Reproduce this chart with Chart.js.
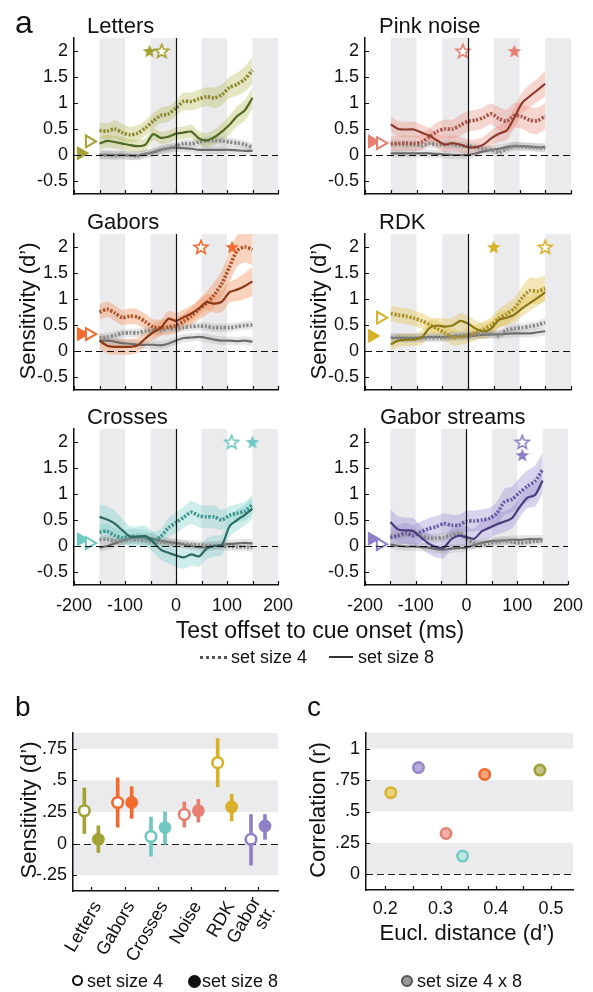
<!DOCTYPE html>
<html><head><meta charset="utf-8">
<script src="https://cdn.jsdelivr.net/npm/chart.js@4.4.1/dist/chart.umd.min.js"></script>
<style>
html,body{margin:0;padding:0;background:#fff;overflow:hidden;}
#fig{position:relative;width:593px;height:992px;overflow:hidden;font-family:"Liberation Sans",Arial,sans-serif;color:#111;}
#fig canvas{position:absolute;left:0;top:0;}
.t{position:absolute;white-space:nowrap;line-height:1;}
</style></head><body><div id="fig"></div>
<script>
// ---------------- DATA ----------------
const offsets = [-150,-135,-120,-105,-90,-75,-60,-45,-30,-15,0,15,30,45,60,75,90,105,120,135,150];
const shadedWindows = [[-150,-100],[-50,0],[50,100],[150,200]];
const xTicksA = [-200,-150,-100,-50,0,50,100,150,200];
const yTicksA = [-0.5,0,0.5,1,1.5,2];
const controlCI = [.08,.08,.08,.08,.08,.08,.08,.08,.08,.08,.08,.08,.08,.08,.08,.08,.08,.08,.08,.08,.08];

const lettersSet4   = [.47,.46,.5,.43,.39,.42,.52,.65,.76,.79,.9,1.03,1.03,1.08,1.12,1.1,1.16,1.3,1.36,1.46,1.63];
const lettersSet4CI = [.15,.15,.17,.17,.15,.15,.15,.15,.15,.15,.15,.17,.17,.18,.18,.2,.2,.2,.22,.24,.26];
const lettersSet8   = [.22,.27,.25,.22,.19,.17,.2,.4,.33,.35,.41,.43,.45,.32,.28,.34,.45,.58,.75,.86,1.1];
const lettersSet8CI = [.12,.12,.12,.12,.12,.12,.12,.12,.12,.12,.12,.12,.13,.13,.14,.15,.16,.18,.19,.2,.2];
const lettersCtrl4  = [0,0,-.01,0,-.01,-.02,.02,.05,.1,.13,.17,.22,.22,.25,.27,.28,.27,.25,.23,.2,.15];
const lettersCtrl8  = [0,0,0,0,-.01,-.01,.02,.05,.1,.13,.14,.13,.12,.1,.1,.1,.1,.1,.09,.08,.08];

const noiseSet4   = [.22,.22,.23,.22,.25,.35,.45,.5,.5,.57,.65,.67,.72,.79,.7,.65,.76,.74,.67,.66,.75];
const noiseSet4CI = [.15,.15,.15,.15,.15,.16,.18,.18,.18,.2,.2,.2,.2,.2,.22,.22,.24,.24,.25,.25,.25];
const noiseSet8   = [.59,.5,.49,.49,.43,.37,.28,.2,.23,.2,.15,.15,.2,.32,.41,.47,.72,1.0,1.13,1.25,1.37];
const noiseSet8CI = [.15,.15,.15,.15,.15,.15,.15,.15,.15,.15,.15,.15,.15,.15,.16,.18,.2,.2,.22,.22,.25];
const noiseCtrl4  = [.2,.22,.2,.2,.18,.22,.2,.2,.2,.18,.17,.15,.12,.1,.05,.12,.17,.16,.15,.14,.13];
const noiseCtrl8  = [.03,.03,.03,.03,.03,.03,.02,.01,0,0,0,.03,.07,.1,.12,.15,.17,.17,.16,.15,.15];

const gaborsSet4   = [.75,.8,.73,.64,.67,.65,.56,.46,.45,.46,.49,.57,.67,.8,.92,1.08,1.3,1.62,1.93,2.0,1.95];
const gaborsSet4CI = [.15,.15,.15,.15,.15,.15,.15,.15,.15,.15,.15,.15,.17,.2,.22,.25,.25,.3,.3,.3,.3];
const gaborsSet8   = [.2,.1,.08,.08,.08,.11,.24,.36,.44,.62,.58,.65,.72,.82,.94,.91,.95,1.13,1.18,1.25,1.34];
const gaborsSet8CI = [.15,.15,.15,.15,.15,.15,.15,.15,.15,.15,.15,.15,.15,.15,.15,.17,.2,.2,.22,.25,.28];
const gaborsCtrl4  = [.25,.27,.3,.34,.35,.35,.38,.4,.4,.43,.43,.45,.47,.48,.47,.45,.45,.45,.47,.49,.5];
const gaborsCtrl8  = [.2,.2,.18,.15,.14,.12,.12,.12,.11,.14,.2,.25,.26,.27,.25,.22,.2,.2,.19,.2,.18];

const rdkSet4   = [.72,.69,.67,.63,.58,.51,.43,.35,.26,.27,.3,.35,.42,.5,.63,.71,.82,1.02,1.16,1.15,1.2];
const rdkSet4CI = [.15,.15,.15,.15,.15,.15,.15,.15,.15,.15,.15,.15,.15,.15,.18,.2,.2,.22,.25,.25,.25];
const rdkSet8   = [.13,.2,.22,.22,.26,.44,.49,.47,.49,.58,.53,.43,.38,.43,.6,.64,.7,.82,.92,1.02,1.13];
const rdkSet8CI = [.12,.12,.12,.12,.14,.15,.15,.15,.15,.15,.15,.15,.15,.15,.15,.15,.15,.15,.15,.15,.15];
const rdkCtrl4  = [.26,.26,.25,.25,.25,.25,.25,.26,.28,.3,.3,.32,.33,.33,.3,.4,.43,.45,.47,.5,.55];
const rdkCtrl8  = [.25,.25,.25,.25,.26,.27,.27,.27,.28,.28,.28,.3,.31,.32,.32,.33,.34,.34,.34,.36,.38];

const crossesSet4   = [.27,.28,.2,.16,.18,.18,.16,.11,.18,.35,.45,.55,.65,.58,.56,.56,.5,.59,.63,.67,.8];
const crossesSet4CI = [.15,.15,.15,.15,.15,.15,.15,.15,.15,.18,.2,.2,.22,.22,.22,.22,.2,.18,.18,.18,.18];
const crossesSet8   = [.56,.51,.43,.3,.18,.18,.19,.08,-.07,-.13,-.18,-.22,-.16,-.2,-.05,0,.02,.38,.5,.6,.72];
const crossesSet8CI = [.25,.25,.25,.22,.2,.2,.2,.2,.2,.2,.22,.22,.22,.2,.2,.2,.2,.2,.2,.2,.2];
const crossesCtrl4  = [.12,.13,.1,.1,.12,.12,.1,.08,.08,.06,.05,.04,.03,.02,.01,.01,0,-.01,-.02,-.02,-.03];
const crossesCtrl8  = [-.03,0,.05,.1,.15,.17,.17,.14,.1,.08,.06,.03,0,-.02,-.02,0,.02,.04,.05,.06,.05];

const streamsSet4   = [.16,.2,.25,.2,.27,.33,.37,.43,.4,.4,.48,.48,.5,.53,.63,.85,.9,1.03,1.15,1.25,1.47];
const streamsSet4CI = [.2,.2,.2,.2,.2,.2,.2,.2,.2,.2,.2,.2,.2,.2,.22,.25,.25,.28,.3,.3,.32];
const streamsSet8   = [.46,.32,.3,.29,.17,.05,-.02,-.03,.13,.2,.17,.14,.28,.35,.42,.47,.54,.75,.93,.98,1.26];
const streamsSet8CI = [.25,.25,.25,.25,.22,.2,.2,.2,.2,.2,.2,.2,.2,.2,.2,.2,.2,.2,.2,.22,.25];
const streamsCtrl4  = [.18,.2,.22,.25,.2,.15,.15,.17,.2,.25,.15,.05,.02,.05,.08,.1,.08,.06,.07,.09,.1];
const streamsCtrl8  = [.03,0,-.01,-.01,-.02,-.03,-.06,-.07,-.05,-.04,-.03,.02,.06,.09,.1,.11,.12,.12,.13,.13,.13];

// stars (panel order: Letters, Pink noise, Gabors, RDK, Crosses, Gabor streams)
const starOpenX   = [-28,-10,49,150,109,110];
const starOpenY   = [2,2,2,2,2,2];
const starFilledX = [-52,90,110,50,150,110];
const starFilledY = [2,2,2,2,2,1.75];
const triangleOpenX = -170, triangleFilledX = -186;

// panel b (order: Letters, Gabors, Crosses, Noise, RDK, Gabor str.)
const categoriesB = ['Letters','Gabors','Crosses','Noise','RDK',['Gabor','str.']];
const meanSet4 = [.26,.325,.056,.23,.64,.034];
const lowSet4  = [.08,.13,-.1,.13,.45,-.17];
const highSet4 = [.44,.52,.21,.33,.83,.23];
const meanSet8 = [.034,.325,.127,.26,.29,.14];
const lowSet8  = [-.07,.2,-.005,.17,.18,.034];
const highSet8 = [.14,.45,.25,.35,.39,.23];
const xTicksB = [1,2,3,4,5,6];
const yTicksB = [-0.25,0,0.25,0.5,0.75];
const bandsB = [[0.75,0.875],[0.25,0.5],[-0.25,0]];

// panel c
const distanceC    = [.48,.38,.34,.31,.21,.26];
const correlationC = [.83,.795,.145,.325,.65,.85];
const xTicksC = [0.2,0.25,0.3,0.35,0.4,0.45,0.5];
const yTicksC = [0,0.25,0.5,0.75,1];
const bandsC = [[1,1.125],[0.5,0.75],[0,0.25]];

// ---------------- STYLE ----------------
const colorsB     = ['#a3a235','#f26a2e','#6fc8c1','#e67f6f','#d8b128','#8f7fc7'];
const colorsCFill = ['#c4c48a','#f5a17c','#bfe7e3','#f1afa5','#e8d47c','#b7acdc'];
const colorsCLine = ['#a0a035','#f06a30','#74cbc4','#e58273','#d8b42c','#9588c8'];
const GRAY_BG = '#ebebee';
const FONT = "'Liberation Sans', Arial, sans-serif";

Chart.defaults.font.family = FONT;
Chart.defaults.font.size = 18;
Chart.defaults.color = '#111';

const fig = document.getElementById('fig');
function addCanvas(){ const c=document.createElement('canvas'); c.width=593; c.height=992; c.style.width='593px'; c.style.height='992px'; fig.appendChild(c); return c; }
const Y_W = 60;
function layoutFor(a,xh){ return {padding:{left:a.l-Y_W, top:a.t, right:593-a.r, bottom:992-a.b-xh}}; }
const fixY = s => { s.width = Y_W; };
const fixXh = h => (s => { s.height = h; });
const setTicks = arr => (s => { s.ticks = arr.map(v=>({value:v})); });

const inwardTicks = { id:'inwardTicks', afterDraw(chart){
  const {ctx, chartArea:a} = chart; const xs=chart.scales.x, ys=chart.scales.y;
  ctx.save(); ctx.strokeStyle='#111'; ctx.lineWidth=1.2; ctx.beginPath();
  xs.ticks.forEach(t=>{const p=Math.round(xs.getPixelForValue(t.value))+0.5; ctx.moveTo(p,a.bottom); ctx.lineTo(p,a.bottom-4);});
  ys.ticks.forEach(t=>{const p=Math.round(ys.getPixelForValue(t.value))+0.5; ctx.moveTo(a.left,p); ctx.lineTo(a.left+4,p);});
  ctx.stroke(); ctx.restore(); } };

const windowsPlugin = { id:'windows',
  beforeDraw(chart){ const {ctx, chartArea:a, scales:{x}} = chart; ctx.save(); ctx.fillStyle=GRAY_BG;
    shadedWindows.forEach(([s,e])=>{const x0=x.getPixelForValue(s), x1=x.getPixelForValue(e); ctx.fillRect(x0,a.top,x1-x0,a.bottom-a.top);}); ctx.restore(); },
  afterDatasetsDraw(chart){ const {ctx, chartArea:a, scales:{x,y}} = chart; ctx.save(); ctx.strokeStyle='#111'; ctx.lineWidth=1.2;
    const x0=Math.round(x.getPixelForValue(0))+0.5; ctx.beginPath(); ctx.moveTo(x0,a.top); ctx.lineTo(x0,a.bottom); ctx.stroke();
    ctx.setLineDash([7,4]); const y0=Math.round(y.getPixelForValue(0))+0.5; ctx.beginPath(); ctx.moveTo(a.left,y0); ctx.lineTo(a.right,y0); ctx.stroke(); ctx.restore(); } };

function hBandsPlugin(bands){ return { id:'hbands',
  beforeDraw(chart){ const {ctx, chartArea:a, scales:{y}} = chart; ctx.save(); ctx.fillStyle=GRAY_BG;
    bands.forEach(([lo,hi])=>{const y0=y.getPixelForValue(hi), y1=y.getPixelForValue(lo); ctx.fillRect(a.left,y0,a.right-a.left,y1-y0);}); ctx.restore(); },
  beforeDatasetsDraw(chart){ const {ctx, chartArea:a, scales:{y}} = chart; ctx.save(); ctx.strokeStyle='#222'; ctx.lineWidth=1.2; ctx.setLineDash([7,4]);
    const y0=Math.round(y.getPixelForValue(0))+0.5; ctx.beginPath(); ctx.moveTo(a.left,y0); ctx.lineTo(a.right,y0); ctx.stroke(); ctx.restore(); } }; }

// rotated category labels for panel b, positioned from the x scale
const rotatedLabels = { id:'rotatedLabels', afterDraw(chart){
  const {ctx, chartArea:a, scales:{x}} = chart; ctx.save(); ctx.fillStyle='#111'; ctx.font='18px '+FONT;
  ctx.textAlign='right'; ctx.textBaseline='middle';
  xTicksB.forEach((v,i)=>{ const lines=[].concat(categoriesB[i]); const px=x.getPixelForValue(v)+6, py=a.bottom+12;
    ctx.save(); ctx.translate(px,py); ctx.rotate(-Math.PI/3);
    lines.forEach((ln,j)=>ctx.fillText(ln,0,(j-(lines.length-1)/2)*17)); ctx.restore(); });
  ctx.restore(); } };

function starImage(color, filled){
  const s=18, c=document.createElement('canvas'); c.width=s; c.height=s; const g=c.getContext('2d');
  const R=7.2, r=3.1, cx=9, cy=9.6; g.beginPath();
  for(let i=0;i<10;i++){ const ang=-Math.PI/2+i*Math.PI/5, rad=i%2?r:R; g.lineTo(cx+rad*Math.cos(ang), cy+rad*Math.sin(ang)); }
  g.closePath(); g.lineJoin='miter';
  if(filled){ g.fillStyle=color; g.fill(); } else { g.fillStyle='#fff'; g.fill(); g.strokeStyle=color; g.lineWidth=1.6; g.stroke(); }
  return c; }

const pts = vals => offsets.map((x,i)=>({x, y:vals[i]}));
const ptsOff = (vals,ci,s) => offsets.map((x,i)=>({x, y:vals[i]+s*ci[i]}));

const panelsA = [
 {s4:lettersSet4,c4:lettersSet4CI,s8:lettersSet8,c8:lettersSet8CI,g4:lettersCtrl4,g8:lettersCtrl8,b:0,
  col:{dark:'#4f6a22',mid:'#8c8a2e',band:'rgba(185,190,95,0.38)',mark:'#a3a132'}, area:{l:74,r:278,t:38,b:194}, xl:false},
 {s4:noiseSet4,c4:noiseSet4CI,s8:noiseSet8,c8:noiseSet8CI,g4:noiseCtrl4,g8:noiseCtrl8,b:3,
  col:{dark:'#8e3a2e',mid:'#a9584d',band:'rgba(236,140,126,0.36)',mark:'#e67f6f'}, area:{l:365,r:571,t:38,b:194}, xl:false},
 {s4:gaborsSet4,c4:gaborsSet4CI,s8:gaborsSet8,c8:gaborsSet8CI,g4:gaborsCtrl4,g8:gaborsCtrl8,b:1,
  col:{dark:'#8a3a16',mid:'#b05428',band:'rgba(244,150,100,0.42)',mark:'#f26a2e'}, area:{l:74,r:278,t:234,b:390}, xl:false},
 {s4:rdkSet4,c4:rdkSet4CI,s8:rdkSet8,c8:rdkSet8CI,g4:rdkCtrl4,g8:rdkCtrl8,b:4,
  col:{dark:'#8a7818',mid:'#aa9228',band:'rgba(226,196,80,0.4)',mark:'#d8b128'}, area:{l:365,r:571,t:234,b:390}, xl:false},
 {s4:crossesSet4,c4:crossesSet4CI,s8:crossesSet8,c8:crossesSet8CI,g4:crossesCtrl4,g8:crossesCtrl8,b:2,
  col:{dark:'#2d6a62',mid:'#3f978f',band:'rgba(118,205,199,0.36)',mark:'#6fc8c1'}, area:{l:74,r:278,t:429,b:585}, xl:true},
 {s4:streamsSet4,c4:streamsSet4CI,s8:streamsSet8,c8:streamsSet8CI,g4:streamsCtrl4,g8:streamsCtrl8,b:5,
  col:{dark:'#4a3c7d',mid:'#6c5ca6',band:'rgba(150,135,205,0.36)',mark:'#8f7fc7'}, area:{l:365,r:571,t:429,b:585}, xl:true}
];

const GRAY_BAND='rgba(140,140,140,0.22)';
const bandDs = (vals,ci,color) => [
  {data:ptsOff(vals,ci,1), fill:'+1', backgroundColor:color, borderWidth:0, pointRadius:0, tension:0.25, order:20},
  {data:ptsOff(vals,ci,-1), fill:false, borderWidth:0, pointRadius:0, tension:0.25, order:20}];
const lineDs = (vals,color,dotted,order) => ({data:pts(vals), borderColor:color, borderWidth:dotted?3.6:2.2,
  borderDash:dotted?[2.2,1.6]:[], fill:false, pointRadius:0, tension:0.25, order});

panelsA.forEach((p,k)=>{
  const ds = [
    ...bandDs(p.g4,controlCI,GRAY_BAND), ...bandDs(p.g8,controlCI,GRAY_BAND),
    ...bandDs(p.s4,p.c4,p.col.band), ...bandDs(p.s8,p.c8,p.col.band),
    lineDs(p.g8,'#6c6c6c',false,10), lineDs(p.g4,'#8a8a8a',true,9),
    lineDs(p.s4,p.col.mid,true,6), lineDs(p.s8,p.col.dark,false,5),
    {data:[{x:triangleFilledX,y:meanSet8[p.b]}], pointStyle:'triangle', rotation:90, pointRadius:7.5, pointBackgroundColor:p.col.mark, pointBorderColor:p.col.mark, pointBorderWidth:1, showLine:false, order:1},
    {data:[{x:triangleOpenX,y:meanSet4[p.b]}], pointStyle:'triangle', rotation:90, pointRadius:6.8, pointBackgroundColor:'#fff', pointBorderColor:p.col.mark, pointBorderWidth:2, showLine:false, order:0},
    {data:[{x:starFilledX[k],y:starFilledY[k]}], pointStyle:starImage(p.col.mark,true), pointRadius:8, showLine:false, order:0},
    {data:[{x:starOpenX[k],y:starOpenY[k]}], pointStyle:starImage(p.col.mark,false), pointRadius:8, showLine:false, order:0}
  ];
  new Chart(addCanvas(), {type:'line', data:{datasets:ds},
    options:{responsive:false, animation:false, devicePixelRatio:1, layout:layoutFor(p.area,40),
      plugins:{legend:{display:false}, tooltip:{enabled:false}, filler:{drawTime:'beforeDatasetsDraw'}},
      scales:{
        x:{type:'linear', min:-200, max:200, afterFit:fixXh(40), afterBuildTicks:setTicks(xTicksA), grid:{display:false, drawTicks:false}, border:{display:true,color:'#111',width:1.5},
           ticks:{autoSkip:false, maxRotation:0, padding:10, callback:v=> (p.xl && v%100===0) ? String(v) : ''}},
        y:{min:-0.75, max:2.25, afterFit:fixY, afterBuildTicks:setTicks(yTicksA), grid:{display:false, drawTicks:false}, border:{display:true,color:'#111',width:1.5},
           ticks:{padding:6, callback:v=>String(v)}}
      }},
    plugins:[windowsPlugin, inwardTicks]});
});

// ---------------- panel b ----------------
const areaB = {l:73,r:278,t:733,b:891};
new Chart(addCanvas(), {type:'scatter', data:{datasets:[
   {type:'bar', data:xTicksB.map((x,i)=>({x:x-0.21, y:[lowSet4[i],highSet4[i]]})), backgroundColor:colorsB, barThickness:3, grouped:false, order:5},
   {type:'bar', data:xTicksB.map((x,i)=>({x:x+0.21, y:[lowSet8[i],highSet8[i]]})), backgroundColor:colorsB, barThickness:3, grouped:false, order:5},
   {data:xTicksB.map((x,i)=>({x:x-0.21, y:meanSet4[i]})), pointRadius:5.3, pointBackgroundColor:'#fff', pointBorderColor:colorsB, pointBorderWidth:2.6, order:1},
   {data:xTicksB.map((x,i)=>({x:x+0.21, y:meanSet8[i]})), pointRadius:6.4, pointBackgroundColor:colorsB, pointBorderColor:colorsB, pointBorderWidth:0, order:1}
  ]},
  options:{responsive:false, animation:false, devicePixelRatio:1, layout:layoutFor(areaB,40),
    plugins:{legend:{display:false}, tooltip:{enabled:false}},
    scales:{
      x:{type:'linear', min:0.45, max:6.6, offset:false, afterFit:fixXh(40), afterBuildTicks:setTicks(xTicksB), grid:{display:false, drawTicks:false}, border:{display:true,color:'#111',width:1.5},
         ticks:{display:false}},
      y:{min:-0.375, max:0.875, afterFit:fixY, afterBuildTicks:setTicks(yTicksB), grid:{display:false, drawTicks:false}, border:{display:true,color:'#111',width:1.5},
         ticks:{padding:6, callback:v=> v===0 ? '0' : String(v).replace('0.','.')}}
    }},
  plugins:[hBandsPlugin(bandsB), inwardTicks, rotatedLabels]});

// ---------------- panel c ----------------
const areaC = {l:366,r:573,t:733,b:890};
new Chart(addCanvas(), {type:'scatter', data:{datasets:[
   {data:distanceC.map((d,i)=>({x:d, y:correlationC[i]})), pointRadius:5.2, pointBackgroundColor:colorsCFill, pointBorderColor:colorsCLine, pointBorderWidth:2.6}
  ]},
  options:{responsive:false, animation:false, devicePixelRatio:1, layout:layoutFor(areaC,40),
    plugins:{legend:{display:false}, tooltip:{enabled:false}},
    scales:{
      x:{type:'linear', min:0.165, max:0.54, afterFit:fixXh(40), afterBuildTicks:setTicks(xTicksC), grid:{display:false, drawTicks:false}, border:{display:true,color:'#111',width:1.5},
         ticks:{autoSkip:false, maxRotation:0, padding:8, callback:v=> Math.abs(v*10-Math.round(v*10))<1e-6 ? v.toFixed(1) : ''}},
      y:{min:-0.125, max:1.125, afterFit:fixY, afterBuildTicks:setTicks(yTicksC), grid:{display:false, drawTicks:false}, border:{display:true,color:'#111',width:1.5},
         ticks:{padding:6, callback:v=> (v===0||v===1) ? String(v) : String(v).replace('0.','.')}}
    }},
  plugins:[hBandsPlugin(bandsC), inwardTicks]});

// ---------------- text ----------------
function txt(s, x, base, size, align, extra){
  const d=document.createElement('div'); d.className='t'; d.textContent=s; d.style.fontSize=size+'px';
  d.style.top=(base-0.8465*size)+'px';
  if(align==='center'){ d.style.left=x+'px'; d.style.transform='translateX(-50%)'; } else d.style.left=x+'px';
  if(extra) Object.assign(d.style, extra); fig.appendChild(d); return d; }
function vtxt(s, baseX, cy, size){
  const d=document.createElement('div'); d.className='t'; d.textContent=s; d.style.fontSize=size+'px';
  d.style.left=(baseX-0.3465*size)+'px'; d.style.top=cy+'px'; d.style.transform='translate(-50%,-50%) rotate(-90deg)';
  fig.appendChild(d); }
function shape(x,y,w,h,style){ const d=document.createElement('div'); d.style.position='absolute'; d.style.left=x+'px'; d.style.top=y+'px'; d.style.width=w+'px'; d.style.height=h+'px'; Object.assign(d.style,style); fig.appendChild(d); }

txt('a',15,33,32);
txt('Letters',87,34,22); txt('Pink noise',379,34,22);
txt('Gabors',87,230,22); txt('RDK',379,230,22);
txt('Crosses',87,425,22); txt('Gabor streams',380,425,22);
vtxt('Sensitivity (d’)',36,311,22); vtxt('Sensitivity (d’)',327,311,22);
txt('Test offset to cue onset (ms)',320,638,23,'center');
shape(200,655.5,27,0,{borderTop:'3px dotted #555'});
txt('set size 4',231,663,18);
shape(329,656,24,2,{background:'#333'});
txt('set size 8',358,663,18);

txt('b',15,717,28);
vtxt('Sensitivity (d’)',37,810,22);
shape(72,975,7,7,{border:'2.5px solid #111',borderRadius:'50%',background:'#fff'});
txt('set size 4',87,987,18);
shape(187.5,974.5,13,13,{borderRadius:'50%',background:'#111'});
txt('set size 8',202,987,18);

txt('c',307,717,28);
vtxt('Correlation (r)',326,810,22);
txt('Eucl. distance (d’)',467,941,22,'center');
shape(400.5,975,8,8,{border:'2.2px solid #555',borderRadius:'50%',background:'#999'});
txt('set size 4 x 8',417,987,18);
</script></body></html>
